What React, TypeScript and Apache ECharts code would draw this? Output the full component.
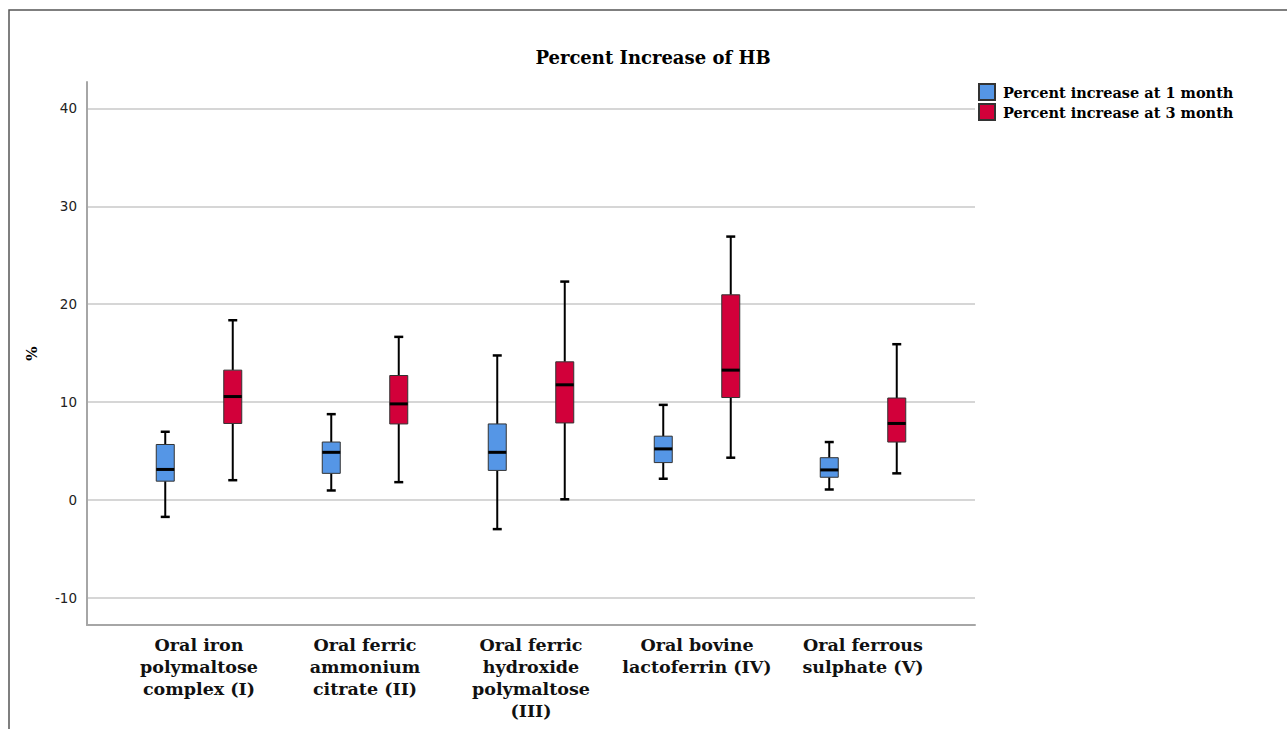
import React, { useEffect, useRef } from "react";
import * as echarts from "echarts";

const categories = [
  "Oral iron\npolymaltose\ncomplex (I)",
  "Oral ferric\nammonium\ncitrate (II)",
  "Oral ferric\nhydroxide\npolymaltose\n(III)",
  "Oral bovine\nlactoferrin (IV)",
  "Oral ferrous\nsulphate (V)",
];

// [low whisker, Q1, median, Q3, high whisker]
const month1 = [
  [-1.75, 1.9, 3.1, 5.65, 6.95],
  [0.95, 2.7, 4.85, 5.9, 8.75],
  [-3.0, 3.0, 4.85, 7.75, 14.75],
  [2.15, 3.8, 5.2, 6.5, 9.7],
  [1.05, 2.3, 3.05, 4.3, 5.9],
];
const month3 = [
  [2.0, 7.8, 10.55, 13.25, 18.35],
  [1.8, 7.75, 9.8, 12.7, 16.65],
  [0.05, 7.85, 11.75, 14.1, 22.3],
  [4.3, 10.45, 13.25, 20.95, 26.9],
  [2.7, 5.9, 7.8, 10.4, 15.9],
];
const seriesNames = ["Percent increase at 1 month", "Percent increase at 3 month"];
const seriesColors = ["#5596e6", "#d2003a"];
const yMin = -12.8;
const yMax = 42.7;

const SERIF = "'DejaVu Serif', serif";
const SANS = "'DejaVu Sans', sans-serif";

function makeRender(offset: number, color: string) {
  return (params: any, api: any) => {
    const x = api.value(0);
    const lo = api.coord([x, api.value(1)]);
    const q1 = api.coord([x, api.value(2)]);
    const med = api.coord([x, api.value(3)]);
    const q3 = api.coord([x, api.value(4)]);
    const hi = api.coord([x, api.value(5)]);
    const cx = lo[0] + offset;
    const half = 9;
    const cap = 4.5;
    const lineStyle = { stroke: "#000", lineWidth: 2 };
    return {
      type: "group",
      children: [
        { type: "line", shape: { x1: cx, y1: hi[1], x2: cx, y2: q3[1] }, style: lineStyle },
        { type: "line", shape: { x1: cx, y1: q1[1], x2: cx, y2: lo[1] }, style: lineStyle },
        { type: "line", shape: { x1: cx - cap, y1: hi[1], x2: cx + cap, y2: hi[1] }, style: { stroke: "#000", lineWidth: 2.5 } },
        { type: "line", shape: { x1: cx - cap, y1: lo[1], x2: cx + cap, y2: lo[1] }, style: { stroke: "#000", lineWidth: 2.5 } },
        {
          type: "rect",
          shape: { x: cx - half, y: q3[1], width: half * 2, height: q1[1] - q3[1] },
          style: { fill: color, stroke: "#333", lineWidth: 1 },
        },
        { type: "line", shape: { x1: cx - half, y1: med[1], x2: cx + half, y2: med[1] }, style: { stroke: "#000", lineWidth: 3 } },
      ],
    };
  };
}

export default function App() {
  const ref = useRef<HTMLDivElement>(null);
  useEffect(() => {
    if (!ref.current) return;
    const chart = echarts.init(ref.current, null, { renderer: "svg" });
    const toData = (arr: number[][]) => arr.map((v, i) => [i, ...v]);
    const gridPos = { top: 82, bottom: 104 };
    chart.setOption({
      animation: false,
      backgroundColor: "#fff",
      graphic: [
        {
          type: "rect",
          shape: { x: 9, y: 10, width: 1400, height: 800 },
          style: { fill: "none", stroke: "#555", lineWidth: 1.5 },
          silent: true,
        },
        {
          type: "text",
          x: 653,
          y: 57,
          style: {
            text: "Percent Increase of HB",
            align: "center",
            verticalAlign: "middle",
            font: `bold 18px ${SERIF}`,
            fill: "#000",
          },
        },
      ],
      legend: {
        orient: "vertical",
        left: 978,
        top: 83,
        padding: 0,
        itemWidth: 16,
        itemHeight: 16,
        itemGap: 2,
        icon: "rect",
        data: seriesNames,
        textStyle: {
          fontFamily: SERIF,
          fontWeight: "bold",
          fontSize: 14.5,
          lineHeight: 14,
          color: "#000",
          padding: [0, 0, 0, 3],
        },
      },
      grid: [
        { left: 87, right: 312, ...gridPos },
        { left: 116, right: 341, ...gridPos },
      ],
      xAxis: [
        {
          type: "value",
          gridIndex: 0,
          min: 0,
          max: 1,
          axisLine: { show: true, onZero: false, lineStyle: { color: "#a6a6a6", width: 2 } },
          axisTick: { show: false },
          axisLabel: { show: false },
          splitLine: { show: false },
        },
        {
          type: "category",
          gridIndex: 1,
          data: categories,
          axisLine: { show: false },
          axisTick: { show: false },
          axisLabel: {
            interval: 0,
            margin: 9,
            fontFamily: SERIF,
            fontWeight: "bold",
            fontSize: 17.5,
            lineHeight: 22,
            color: "#111",
            align: "center",
            verticalAlign: "top",
          },
        },
      ],
      yAxis: [
        {
          type: "value",
          gridIndex: 0,
          min: yMin,
          max: yMax,
          name: "%",
          nameLocation: "middle",
          nameGap: 48,
          nameRotate: 90,
          nameTextStyle: { fontFamily: SERIF, fontWeight: "bold", fontSize: 15, color: "#000" },
          axisLine: { show: true, lineStyle: { color: "#a6a6a6", width: 2 } },
          axisTick: { show: false },
          axisLabel: { showMinLabel: false, showMaxLabel: false, margin: 10, fontFamily: SANS, fontSize: 13.5, color: "#222" },
          splitLine: { show: true, showMinLine: false, showMaxLine: false, lineStyle: { color: "#c8c8c8", width: 1.5 } },
        },
        {
          type: "value",
          gridIndex: 1,
          min: yMin,
          max: yMax,
          show: false,
          splitLine: { show: false },
        },
      ],
      series: [
        {
          name: seriesNames[0],
          type: "custom",
          xAxisIndex: 1,
          yAxisIndex: 1,
          itemStyle: { color: seriesColors[0], borderColor: "#333", borderWidth: 1 },
          encode: { x: 0, y: [1, 2, 3, 4, 5] },
          data: toData(month1),
          renderItem: makeRender(-33.75, seriesColors[0]),
        },
        {
          name: seriesNames[1],
          type: "custom",
          xAxisIndex: 1,
          yAxisIndex: 1,
          itemStyle: { color: seriesColors[1], borderColor: "#333", borderWidth: 1 },
          encode: { x: 0, y: [1, 2, 3, 4, 5] },
          data: toData(month3),
          renderItem: makeRender(33.75, seriesColors[1]),
        },
      ],
    });
    return () => chart.dispose();
  }, []);
  return (
    <div
      ref={ref}
      style={{ position: "fixed", left: 0, top: 0, width: 1287, height: 729, background: "#fff" }}
    />
  );
}
